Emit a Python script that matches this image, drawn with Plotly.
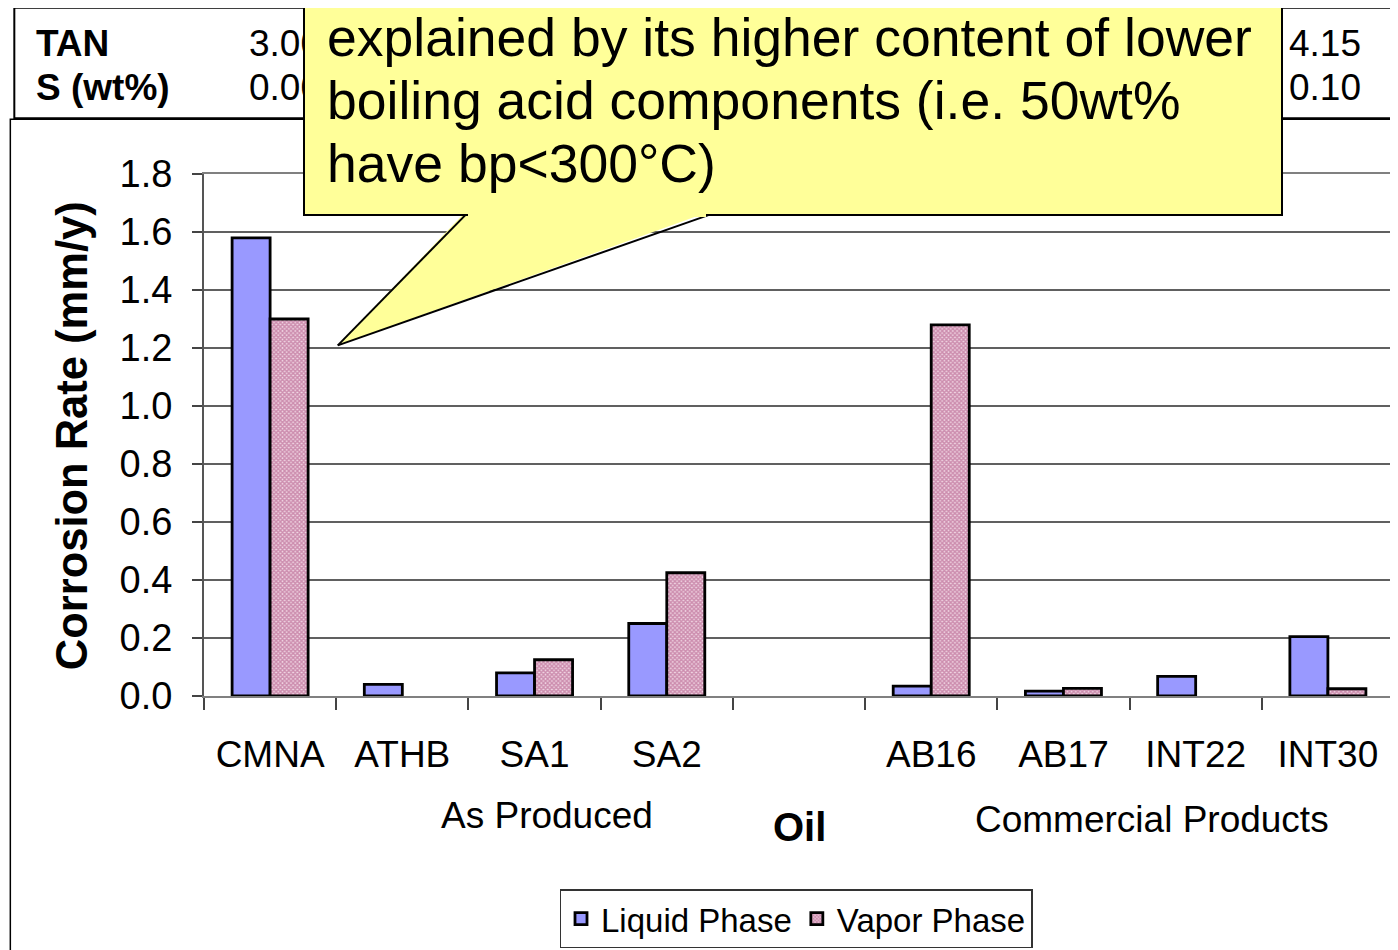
import plotly.graph_objects as go

categories = ["CMNA", "ATHB", "SA1", "SA2", " ", "AB16", "AB17", "INT22", "INT30"]
liquid = [1.58, 0.04, 0.08, 0.25, None, 0.034, 0.017, 0.068, 0.205]
vapor = [1.30, None, 0.125, 0.425, None, 1.28, 0.026, None, 0.025]
series_names = ["Liquid Phase", "Vapor Phase"]
y_ticks = [0.0, 0.2, 0.4, 0.6, 0.8, 1.0, 1.2, 1.4, 1.6, 1.8]
table_rows = ["TAN", "S (wt%)"]
table_first = ["3.00", "0.00"]
table_last = ["4.15", "0.10"]
group_labels = ["As Produced", "Commercial Products"]
callout_lines = ["explained by its higher content of lower",
                 "boiling acid components (i.e. 50wt%",
                 "have bp<300°C)"]

OFF = 8  # page body margin
W, H = 1398 - OFF, 950 - OFF
PLOT_L, PLOT_R, PLOT_T, PLOT_B = 204, 1396, 174, 698  # page pixels
L = PLOT_L - OFF
T = PLOT_T - OFF
R = W - (PLOT_R - OFF)
B = H - (PLOT_B - OFF)
PW, PH = PLOT_R - PLOT_L, PLOT_B - PLOT_T


def px(x):
    return (x - PLOT_L) / PW


def py(y):
    return (PLOT_B - y) / PH


FONT = "Liberation Sans, Arial, sans-serif"

fig = go.Figure()
fig.add_trace(go.Bar(
    x=categories, y=liquid, name=series_names[0],
    marker=dict(color="#9999FF", line=dict(color="black", width=2.8)),
))
fig.add_trace(go.Bar(
    x=categories, y=vapor, name=series_names[1],
    marker=dict(color="#EBC8D8", line=dict(color="black", width=2.8),
                pattern=dict(shape="x", fgcolor="#A8457A", bgcolor="#F0D4E2",
                             size=3, solidity=0.7)),
))

fig.update_layout(
    width=W, height=H,
    margin=dict(l=L, r=R, t=T, b=B),
    paper_bgcolor="white", plot_bgcolor="white",
    barmode="group", bargap=0.425, bargroupgap=0,
    font=dict(family=FONT, color="black"),
    showlegend=True,
    legend=dict(orientation="h", x=px(797), xanchor="center", y=py(892), yanchor="top",
                bordercolor="#333333", borderwidth=1.5, bgcolor="white",
                font=dict(size=33, family=FONT), itemwidth=30),
)
fig.update_xaxes(
    type="category", categoryorder="array", categoryarray=categories,
    tickson="boundaries", ticks="outside", ticklen=12, tickwidth=1.5, tickcolor="#444",
    showline=True, linecolor="#808080", linewidth=2, mirror=True,
    showgrid=False, tickfont=dict(size=37, family=FONT), ticklabelstandoff=25,
)
fig.update_yaxes(
    range=[0, 1.8], tickvals=y_ticks, tickformat=".1f",
    ticks="outside", ticklen=10, tickwidth=1.5, tickcolor="#444",
    showline=True, linecolor="#555555", linewidth=2, mirror=True,
    showgrid=True, gridcolor="#606060", gridwidth=1.5,
    tickfont=dict(size=38, family=FONT), ticklabelstandoff=12, zeroline=False,
)

shapes = []
# chart-area frame
shapes.append(dict(type="rect", xref="paper", yref="paper", layer="below",
                   x0=px(10), y0=py(960), x1=px(1405), y1=py(119),
                   line=dict(color="black", width=1.5), fillcolor="rgba(0,0,0,0)"))
# data table frame
shapes.append(dict(type="rect", xref="paper", yref="paper", layer="above",
                   x0=px(14), y0=py(118), x1=px(1405), y1=py(7),
                   line=dict(color="black", width=2), fillcolor="rgba(0,0,0,0)"))
# callout tail
tip = (338, 346)
a = (466, 215)
b = (710, 215)
shapes.append(dict(type="path", xref="paper", yref="paper", layer="above",
                   path=f"M{px(a[0])},{py(a[1]-3)} L{px(tip[0])},{py(tip[1])} L{px(b[0])},{py(b[1]-3)} Z",
                   fillcolor="#FFFF99", line=dict(width=0)))
for p in (a, b):
    shapes.append(dict(type="line", xref="paper", yref="paper", layer="above",
                       x0=px(p[0]), y0=py(p[1]), x1=px(tip[0]), y1=py(tip[1]),
                       line=dict(color="black", width=2)))
fig.update_layout(shapes=shapes)

ann = []
# table
for i, (lab, v1, v2) in enumerate(zip(table_rows, table_first, table_last)):
    yy = py(43 + 44 * i)
    ann.append(dict(text=f"<b>{lab}</b>", x=px(34), y=yy, xref="paper", yref="paper",
                    xanchor="left", yanchor="middle", showarrow=False,
                    font=dict(size=37, family=FONT)))
    ann.append(dict(text=v1, x=px(247), y=yy, xref="paper", yref="paper",
                    xanchor="left", yanchor="middle", showarrow=False,
                    font=dict(size=37, family=FONT)))
    ann.append(dict(text=v2, x=px(1289), y=yy, xref="paper", yref="paper",
                    xanchor="left", yanchor="middle", showarrow=False,
                    font=dict(size=37, family=FONT)))
# axis titles & group labels
ann.append(dict(text="<b>Corrosion Rate (mm/y)</b>", x=px(72), y=py(437), xref="paper", yref="paper",
                textangle=-90, showarrow=False, font=dict(size=43.5, family=FONT),
                xanchor="center", yanchor="middle"))
ann.append(dict(text="<b>Oil</b>", x=px(800), y=py(830), xref="paper", yref="paper",
                showarrow=False, font=dict(size=40, family=FONT), xanchor="center", yanchor="middle"))
ann.append(dict(text=group_labels[0], x=px(548), y=py(818), xref="paper", yref="paper",
                showarrow=False, font=dict(size=37, family=FONT), xanchor="center", yanchor="middle"))
ann.append(dict(text=group_labels[1], x=px(1154), y=py(822), xref="paper", yref="paper",
                showarrow=False, font=dict(size=37, family=FONT), xanchor="center", yanchor="middle"))
# callout box
ann.append(dict(text=" ", x=px(303), y=py(216), xref="paper", yref="paper",
                xanchor="left", yanchor="bottom", showarrow=False,
                width=976, height=300, bgcolor="#FFFF99", bordercolor="black",
                borderwidth=2, borderpad=0, font=dict(size=10)))
# cover bottom border where tail joins
ann.append(dict(text=" ", x=px(588), y=py(215), xref="paper", yref="paper",
                xanchor="center", yanchor="middle", showarrow=False,
                width=238, height=5, bgcolor="#FFFF99", borderwidth=0, borderpad=0,
                font=dict(size=1)))
for i, line in enumerate(callout_lines):
    ann.append(dict(text=line, x=px(325), y=py(37 + 63 * i), xref="paper", yref="paper",
                    xanchor="left", yanchor="middle", showarrow=False,
                    font=dict(size=53.5, family=FONT)))
fig.update_layout(annotations=ann)

fig.write_html("out.html")
